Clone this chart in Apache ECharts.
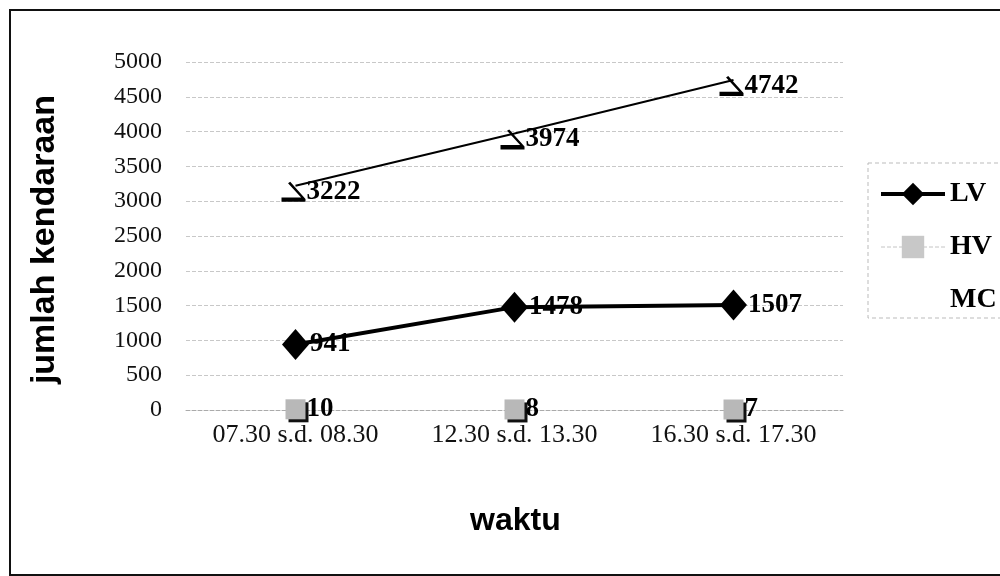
<!DOCTYPE html>
<html>
<head>
<meta charset="utf-8">
<script src="https://cdn.jsdelivr.net/npm/echarts@6/dist/echarts.min.js"></script>
<style>
  html, body { margin: 0; padding: 0; background: #fff; }
  #chart { width: 1000px; height: 576px; }
</style>
</head>
<body>
<div id="chart"></div>
<script>
// Vehicle counts per observation period
const categories = ['07.30 s.d. 08.30', '12.30 s.d. 13.30', '16.30 s.d. 17.30'];
const lvValues = [941, 1478, 1507];
const hvValues = [10, 8, 7];
const mcValues = [3222, 3974, 4742];

const serif = '"Liberation Serif", "Times New Roman", serif';
const sans = '"Liberation Sans", Arial, sans-serif';

const valueLabel = {
  show: true,
  position: 'right',
  distance: 1,
  fontFamily: serif,
  fontWeight: 'bold',
  fontSize: 27,
  color: '#000'
};

// Slanted stroke ending on a heavy base, used as the MC marker
const mcSymbol = 'path://M6,1 L8,0 L22,12 L22,14 L0,14 L0,11 L18,11 Z';

const chart = echarts.init(document.getElementById('chart'));
chart.setOption({
  animation: false,
  backgroundColor: '#fff',
  grid: { left: 186, right: 157, top: 62, bottom: 166 },
  xAxis: {
    type: 'category',
    data: categories,
    boundaryGap: true,
    axisLine: { show: true, lineStyle: { color: '#aaa', type: 'dashed', width: 1 } },
    axisTick: { show: false },
    axisLabel: { fontFamily: serif, fontSize: 26, color: '#111', margin: 12 }
  },
  yAxis: {
    type: 'value',
    min: 0,
    max: 5000,
    interval: 500,
    axisLine: { show: false },
    axisTick: { show: false },
    axisLabel: {
      fontFamily: serif,
      fontSize: 24,
      color: '#111',
      margin: 24,
      formatter: (v) => String(v)
    },
    splitLine: { show: true, lineStyle: { color: '#c8c8c8', type: 'dashed', width: 1 } }
  },
  legend: {
    orient: 'vertical',
    left: 874,
    top: 175,
    itemGap: 25,
    itemWidth: 64,
    itemHeight: 28,
    itemStyle: { borderWidth: 0 },
    textStyle: { fontFamily: serif, fontWeight: 'bold', fontSize: 28, color: '#000', padding: [0, 0, 0, 0] },
    data: [
      { name: 'LV', lineStyle: { color: '#000', width: 4 } },
      {
        name: 'HV',
        lineStyle: { color: '#c4c4c4', width: 1, type: 'dashed' },
        itemStyle: { color: '#c8c8c8', shadowBlur: 0, shadowOffsetX: 0, shadowOffsetY: 0 }
      },
      {
        name: 'MC',
        lineStyle: { opacity: 0 },
        itemStyle: { opacity: 0 }
      }
    ]
  },
  graphic: [
    {
      type: 'rect',
      shape: { x: 10, y: 10, width: 1000, height: 565 },
      style: { fill: 'none', stroke: '#111', lineWidth: 2 },
      silent: true
    },
    {
      type: 'rect',
      shape: { x: 868, y: 163, width: 140, height: 155 },
      style: { fill: 'none', stroke: '#bbb', lineWidth: 1, lineDash: [4, 3] },
      silent: true
    },
    {
      // vertical axis title
      type: 'text',
      left: 28,
      top: 95,
      rotation: Math.PI / 2,
      style: {
        text: 'jumlah kendaraan',
        fontFamily: sans,
        fontWeight: 'bold',
        fontSize: 34,
        fill: '#000'
      },
      silent: true
    },
    {
      // horizontal axis title
      type: 'text',
      left: 470,
      top: 505,
      style: {
        text: 'waktu',
        fontFamily: sans,
        fontWeight: 'bold',
        fontSize: 32,
        fill: '#000'
      },
      silent: true
    }
  ],
  series: [
    {
      name: 'LV',
      type: 'line',
      data: lvValues,
      symbol: 'diamond',
      symbolSize: [27, 31],
      lineStyle: { color: '#000', width: 4 },
      itemStyle: { color: '#000' },
      label: valueLabel
    },
    {
      name: 'HV',
      type: 'line',
      data: hvValues,
      symbol: 'rect',
      symbolSize: 20,
      lineStyle: { width: 0, color: '#bbb' },
      itemStyle: {
        color: '#b8b8b8',
        shadowColor: '#111',
        shadowOffsetX: 3,
        shadowOffsetY: 3,
        shadowBlur: 0
      },
      label: valueLabel
    },
    {
      name: 'MC',
      type: 'line',
      data: mcValues,
      symbol: mcSymbol,
      symbolSize: [24, 20],
      symbolOffset: [-2, 6],
      lineStyle: { color: '#000', width: 2 },
      itemStyle: { color: '#000' },
      label: valueLabel
    }
  ]
});
</script>
</body>
</html>
